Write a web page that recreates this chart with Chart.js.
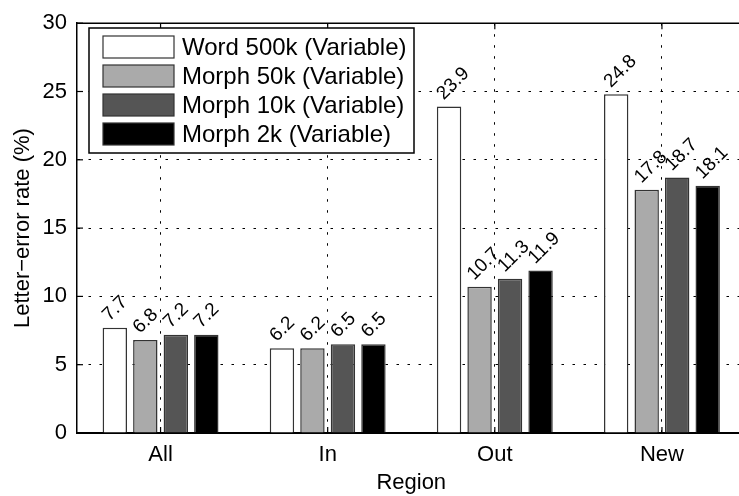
<!DOCTYPE html>
<html>
<head>
<meta charset="utf-8">
<script src="https://cdn.jsdelivr.net/npm/chart.js@4"></script>
<style>
html, body { margin: 0; padding: 0; overflow: hidden; background: #fff; }
#wrap { width: 750px; height: 496px; }
</style>
</head>
<body>
<div id="wrap"><canvas id="chart"></canvas></div>
<script>
/** Data */
const regions = ['All', 'In', 'Out', 'New'];
const seriesNames = ['Word 500k (Variable)', 'Morph 50k (Variable)', 'Morph 10k (Variable)', 'Morph 2k (Variable)'];
const word500k = [7.7, 6.2, 23.9, 24.8];
const morph50k = [6.8, 6.2, 10.7, 17.8];
const morph10k = [7.2, 6.5, 11.3, 18.7];
const morph2k = [7.2, 6.5, 11.9, 18.1];
const fills = ['#ffffff', '#aaaaaa', '#555555', '#000000'];

Chart.defaults.font.family = '"Liberation Sans", Arial, Helvetica, sans-serif';
Chart.defaults.color = '#000';

/** Rotated value labels above each bar */
const barLabels = {
    id: 'barLabels',
    afterDatasetsDraw(chart) {
        const ctx = chart.ctx;
        ctx.save();
        ctx.font = '19px "Liberation Sans", Arial, sans-serif';
        ctx.fillStyle = '#000';
        ctx.textAlign = 'left';
        ctx.textBaseline = 'alphabetic';
        chart.data.datasets.forEach((ds, i) => {
            chart.getDatasetMeta(i).data.forEach((bar, j) => {
                ctx.save();
                ctx.translate(bar.x - bar.width / 2 + 7, bar.y - 6);
                ctx.rotate(-45 * Math.PI / 180);
                ctx.fillText(ds.data[j].toFixed(1), 0, 0);
                ctx.restore();
            });
        });
        ctx.restore();
    }
};

/** Box line on top + inward tick marks (matlab look) */
const frame = {
    id: 'frame',
    afterDatasetsDraw(chart) {
        const {ctx, chartArea: a, scales: {x, y}} = chart;
        ctx.save();
        ctx.strokeStyle = '#000';
        ctx.lineWidth = 1.5;
        ctx.beginPath();
        ctx.moveTo(a.left, a.top);
        ctx.lineTo(a.right, a.top);
        ctx.stroke();
        ctx.lineWidth = 1.2;
        regions.forEach((r, i) => {
            const px = x.getPixelForValue(i);
            ctx.beginPath();
            ctx.moveTo(px, a.top); ctx.lineTo(px, a.top + 6);
            ctx.moveTo(px, a.bottom); ctx.lineTo(px, a.bottom - 6);
            ctx.stroke();
        });
        y.ticks.forEach(t => {
            const py = y.getPixelForValue(t.value);
            ctx.beginPath();
            ctx.moveTo(a.left, py); ctx.lineTo(a.left + 6, py);
            ctx.stroke();
        });
        ctx.restore();
    }
};

/** Legend box in the upper left corner */
const legendBox = {
    id: 'legendBox',
    afterDraw(chart) {
        const ctx = chart.ctx;
        ctx.save();
        ctx.fillStyle = '#fff';
        ctx.fillRect(89, 28, 325, 125);
        ctx.strokeStyle = '#000';
        ctx.lineWidth = 1.5;
        ctx.strokeRect(89, 28, 325, 125);
        ctx.font = '24px "Liberation Sans", Arial, sans-serif';
        ctx.textBaseline = 'alphabetic';
        chart.data.datasets.forEach((ds, i) => {
            const top = 36 + i * 29;
            ctx.fillStyle = ds.backgroundColor;
            ctx.fillRect(103, top, 71, 22);
            ctx.lineWidth = 1.2;
            ctx.strokeStyle = '#333';
            ctx.strokeRect(103, top, 71, 22);
            ctx.fillStyle = '#000';
            ctx.fillText(ds.label, 182, top + 19);
        });
        ctx.restore();
    }
};

new Chart(document.getElementById('chart'), {
    type: 'bar',
    data: {
        labels: regions,
        datasets: [word500k, morph50k, morph10k, morph2k].map((d, i) => ({
            label: seriesNames[i],
            data: d,
            backgroundColor: fills[i],
            borderColor: '#333',
            borderWidth: 1.5,
            categoryPercentage: 0.73,
            barPercentage: 0.8
        }))
    },
    options: {
        responsive: true,
        maintainAspectRatio: false,
        animation: false,
        layout: {
            padding: { left: 0, right: 4.5, top: 16, bottom: 0 }
        },
        plugins: {
            legend: { display: false },
            tooltip: { enabled: false }
        },
        scales: {
            x: {
                grid: {
                    offset: false,
                    drawTicks: false,
                    color: '#000',
                    lineWidth: 1
                },
                border: { color: '#000', width: 2, dash: [2.5, 8.5] },
                ticks: { font: { size: 22 }, padding: 9, color: '#000' },
                title: {
                    display: true,
                    text: 'Region',
                    font: { size: 22 },
                    padding: { top: 0, bottom: 0 }
                },
                afterFit: s => { s.height = 63; }
            },
            y: {
                min: 0,
                max: 30,
                ticks: { stepSize: 5, font: { size: 22 }, padding: 10, color: '#000' },
                grid: {
                    drawTicks: false,
                    color: '#000',
                    lineWidth: 1
                },
                border: { color: '#000', width: 1.5, dash: [2.5, 8.5] },
                title: {
                    display: true,
                    text: 'Letter\u2212error rate (%)',
                    font: { size: 22 },
                    padding: { top: 10, bottom: 0 }
                },
                afterFit: s => { s.width = 77; }
            }
        }
    },
    plugins: [barLabels, frame, legendBox]
});
</script>
</body>
</html>
